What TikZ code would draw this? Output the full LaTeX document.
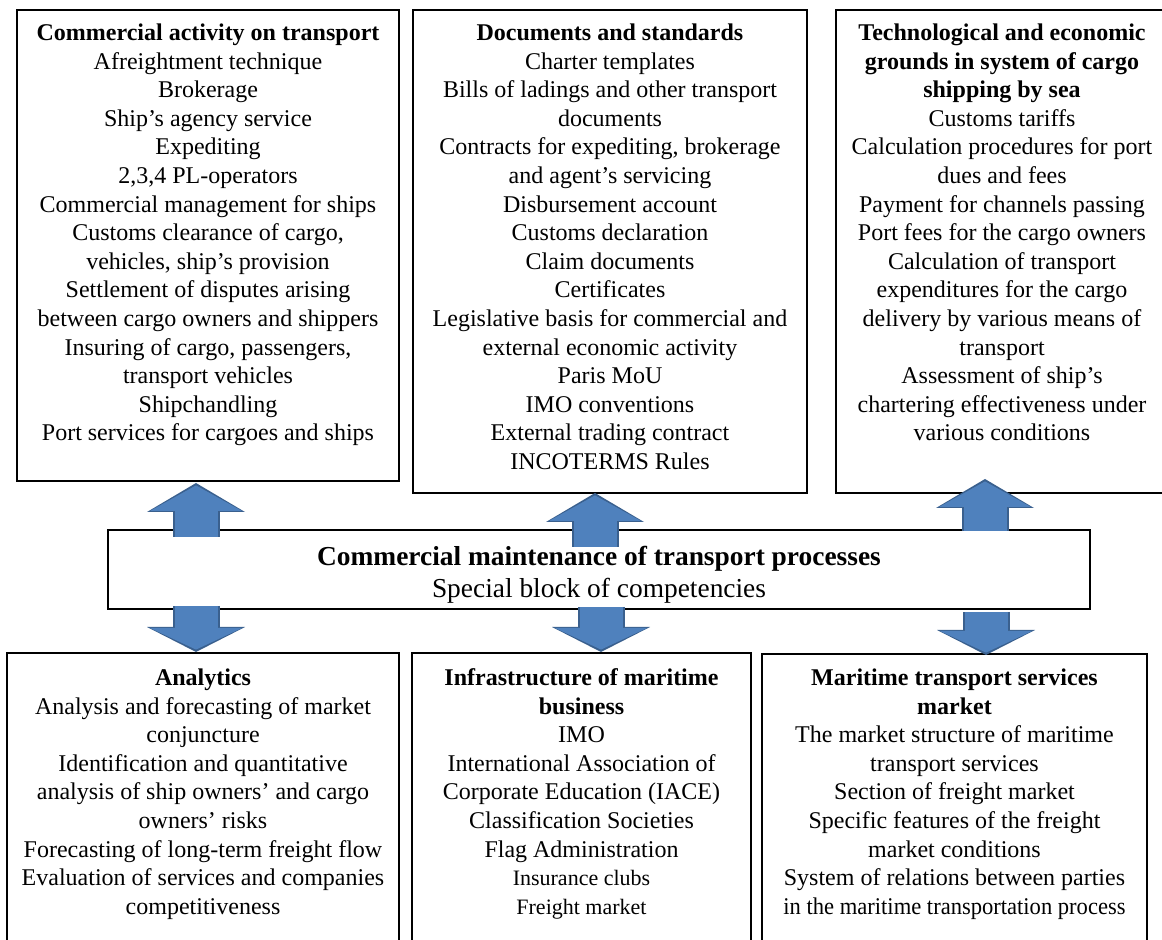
\documentclass[tikz,border=0pt]{standalone}
\usepackage{fontspec}
\usepackage{graphicx}
\setmainfont{Liberation Serif}
\usetikzlibrary{arrows.meta,calc}

\newlength{\du}
\setlength{\du}{0.5pt}

\definecolor{arrowfill}{RGB}{79,129,189}
\definecolor{arrowedge}{RGB}{58,96,142}

\tikzset{
  block/.style={draw=black, line width=2\du, fill=white, inner sep=0pt, outer sep=0pt, anchor=north west},
  blocktext/.style={anchor=north, align=center, inner sep=0pt, font=\fontsize{12}{14.3}\selectfont},
  centertext/.style={anchor=north, align=center, inner sep=0pt, font=\fontsize{13.7}{16}\selectfont},
  blockarrow/.style 2 args={arrowfill, line width=21.5pt, shorten >=1.2pt,
    -{Triangle[length=#1,width=46pt,line width=0pt]},
    preaction={draw=arrowedge, line width=23.5pt, shorten >=0pt,
      -{Triangle[length=#2,width=49pt,line width=0pt]}}}
}

\begin{document}
\begin{tikzpicture}
\pgftransformxscale{1.000000}
\pgftransformyscale{-1.000000}
\useasboundingbox (0\du,0\du) rectangle (1162\du,940\du);
% upper blocks
\node[block, minimum width=382\du, minimum height=471\du] (act) at (17\du,10\du) {};
\node[block, minimum width=394\du, minimum height=483\du] (doc) at (413\du,10\du) {};
\node[block, minimum width=332\du, minimum height=483\du] (tech) at (836\du,10\du) {};
% central block
\node[block, minimum width=982\du, minimum height=79\du] (ctr) at (108\du,530\du) {};
% lower blocks
\node[block, minimum width=392\du, minimum height=310\du] (ana) at (7\du,653\du) {};
\node[block, minimum width=339\du, minimum height=310\du] (infra) at (412\du,653\du) {};
\node[block, minimum width=385\du, minimum height=310\du] (mkt) at (762\du,654\du) {};
% arrow columns
\coordinate (leftcol) at (196\du,0\du);
\coordinate (midup) at (595\du,0\du);
\coordinate (middown) at (601\du,0\du);
\coordinate (rightup) at (985\du,0\du);
\coordinate (rightdown) at (986\du,0\du);
\draw[blockarrow={12.8pt}{14.5pt}] ($(ctr.north -| leftcol)+(0,7\du)$) -- ($(act.south -| leftcol)+(0,2\du)$);
\draw[blockarrow={12.8pt}{14.5pt}] ($(ctr.north -| midup)+(0,17\du)$) -- (doc.south -| midup);
\draw[blockarrow={12.8pt}{14.5pt}] ($(ctr.north -| rightup)+(0,1\du)$) -- ($(tech.south -| rightup)+(0,-14\du)$);
\draw[blockarrow={10.8pt}{12.5pt}] ($(ctr.south -| leftcol)+(0,-3\du)$) -- ($(ana.north -| leftcol)+(0,-1\du)$);
\draw[blockarrow={10.8pt}{12.5pt}] ($(ctr.south -| middown)+(0,-2\du)$) -- ($(infra.north -| middown)+(0,-1\du)$);
\draw[blockarrow={10.8pt}{12.5pt}] ($(ctr.south -| rightdown)+(0,3\du)$) -- ($(mkt.north -| rightdown)+(0,1\du)$);
% setfont left to latex
\node[blocktext] (acttext) at (208\du,20\du) {\strut\textbf{Commercial activity on transport}\\
Afreightment technique\\
Brokerage\\
Ship’s agency service\\
Expediting\\
2,3,4 PL-operators\\
Commercial management for ships\\
Customs clearance of cargo,\\
vehicles, ship’s provision\\
Settlement of disputes arising\\
between cargo owners and shippers\\
Insuring of cargo, passengers,\\
transport vehicles\\
Shipchandling\\
Port services for cargoes and ships};
% setfont left to latex
\node[blocktext] (doctext) at (610\du,20\du) {\strut\textbf{Documents and standards}\\
Charter templates\\
Bills of ladings and other transport\\
documents\\
Contracts for expediting, brokerage\\
and agent’s servicing\\
Disbursement account\\
Customs declaration\\
Claim documents\\
Certificates\\
Legislative basis for commercial and\\
external economic activity\\
Paris MoU\\
IMO conventions\\
External trading contract\\
INCOTERMS Rules};
% setfont left to latex
\node[blocktext] (techtext) at (1002\du,20\du) {\strut\textbf{Technological and economic}\\
\textbf{grounds in system of cargo}\\
\textbf{shipping by sea}\\
Customs tariffs\\
Calculation procedures for port\\
dues and fees\\
Payment for channels passing\\
Port fees for the cargo owners\\
Calculation of transport\\
expenditures for the cargo\\
delivery by various means of\\
transport\\
Assessment of ship’s\\
chartering effectiveness under\\
various conditions};
% setfont left to latex
\node[centertext] (ctrtext) at (599\du,542.6\du) {\strut\textbf{Commercial maintenance of transport processes}\\
Special block of competencies};
% setfont left to latex
\node[blocktext] (anatext) at (203\du,665\du) {\strut\textbf{Analytics}\\
Analysis and forecasting of market\\
conjuncture\\
Identification and quantitative\\
analysis of ship owners’ and cargo\\
owners’ risks\\
Forecasting of long-term freight flow\\
Evaluation of services and companies\\
competitiveness};
% setfont left to latex
\node[blocktext] (infratext) at (581.5\du,665\du) {\strut\textbf{Infrastructure of maritime}\\
\textbf{business}\\
IMO\\
International Association of\\
Corporate Education (IACE)\\
Classification Societies\\
Flag Administration\\
{\fontsize{11}{14.3}\selectfont Insurance clubs}\\
{\fontsize{11}{14.3}\selectfont Freight market}};
% setfont left to latex
\node[blocktext] (mkttext) at (954.5\du,665\du) {\strut\textbf{Maritime transport services}\\
\textbf{market}\\
The market structure of maritime\\
transport services\\
Section of freight market\\
Specific features of the freight\\
market conditions\\
System of relations between parties\\
\scalebox{0.94}[1]{in the maritime transportation process}};
\end{tikzpicture}
\end{document}
